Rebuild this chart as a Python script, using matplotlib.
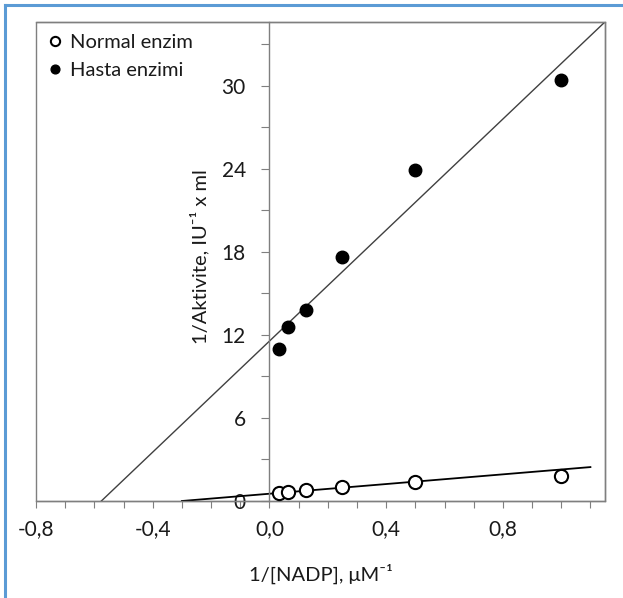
import numpy as np
import matplotlib
matplotlib.use("Agg")
import matplotlib.pyplot as plt
from matplotlib.lines import Line2D
from matplotlib.patches import Rectangle
from matplotlib.ticker import FixedLocator, FuncFormatter

plt.rcParams["font.family"] = ["Lato", "DejaVu Sans"]

# 1/[NADP] (uM^-1)
x_inv_nadp = [0.03125, 0.0625, 0.125, 0.25, 0.5, 1.0]
# 1/Aktivite
y_normal = [0.6, 0.65, 0.77, 0.99, 1.39, 1.8]
y_hasta = [10.95, 12.6, 13.8, 17.6, 23.9, 30.4]

# droites tracees (pente, ordonnee a l'origine, domaine x)
normal_slope, normal_icpt = 1.75, 0.525
normal_xrange = [-0.3, 1.1]
hasta_slope, hasta_icpt = 20.05, 11.55
hasta_xrange = [-0.576, 1.15]

x_major = [-0.8, -0.4, 0.0, 0.4, 0.8]
y_major = [0, 6, 12, 18, 24, 30]

W, H = 623, 598
fig = plt.figure(figsize=(W / 100, H / 100), dpi=100)
L, R, T, B = 36, 605, 22, 501
ax = fig.add_axes([L / W, 1 - B / H, (R - L) / W, (B - T) / H])
ax.set_xlim(-0.8, 1.15)
ax.set_ylim(0, 34.6)

gray = "#7f7f7f"
txt = "#1a1a1a"

# droites de regression
xn = np.array(normal_xrange)
ax.plot(xn, normal_icpt + normal_slope * xn, color="black", lw=1.3, zorder=2)
xh = np.array(hasta_xrange)
ax.plot(xh, hasta_icpt + hasta_slope * xh, color="#404040", lw=1.0, zorder=2)

ax.plot(x_inv_nadp, y_normal, "o", ms=9.5, mfc="white", mec="black", mew=1.5,
        ls="none", label="Normal enzim", zorder=3, clip_on=False)
ax.plot(x_inv_nadp, y_hasta, "o", ms=9, mfc="black", mec="black",
        ls="none", label="Hasta enzimi", zorder=3)

# axes: y croise en x=0, cadre autour
ax.spines["left"].set_position(("data", 0))
for s in ax.spines.values():
    s.set_color(gray)
    s.set_linewidth(1.0)
ax.add_patch(Rectangle((0, 0), 1, 1, transform=ax.transAxes, fill=False,
                       edgecolor=gray, lw=1.0, clip_on=False, zorder=1))

ax.xaxis.set_major_locator(FixedLocator(x_major))
ax.xaxis.set_minor_locator(FixedLocator(np.round(np.arange(-0.8, 1.11, 0.1), 2)))
ax.yaxis.set_major_locator(FixedLocator(y_major))
ax.yaxis.set_minor_locator(FixedLocator(np.arange(3, 34, 6)))
ax.xaxis.set_major_formatter(FuncFormatter(lambda v, p: f"{v:.1f}".replace(".", ",")))
ax.yaxis.set_major_formatter(FuncFormatter(lambda v, p: f"{v:.0f}"))

ax.tick_params(axis="x", which="both", direction="out", length=5, width=0.8,
               color=gray, labelsize=15, labelcolor=txt, pad=8)
ax.tick_params(axis="y", which="both", direction="out", length=6, width=0.8,
               color=gray, labelsize=15, labelcolor=txt, pad=11)

ax.set_xlabel("1/[NADP], μM⁻¹", fontsize=14.5, color=txt)
ax.xaxis.set_label_coords(0.5, -0.13)
ax.set_ylabel("1/Aktivite, IU⁻¹ x ml", fontsize=14.5, color=txt)
ax.yaxis.set_label_coords(0.305, 0.51)

leg = ax.legend(loc="upper left", bbox_to_anchor=(0.0, 1.0), frameon=False,
                fontsize=14.5, handlelength=0.7, handletextpad=0.4,
                labelspacing=0.55, borderaxespad=0.2, markerscale=0.7)
for t in leg.get_texts():
    t.set_color(txt)

# bordure bleue de l'image
blue = "#5b9bd5"
fig.add_artist(Line2D([5 / W, 1], [1 - 5 / H, 1 - 5 / H], color=blue, lw=2.2))
fig.add_artist(Line2D([5 / W, 5 / W], [0, 1 - 5 / H], color=blue, lw=2.2))

fig.savefig("out.png", dpi=100)
